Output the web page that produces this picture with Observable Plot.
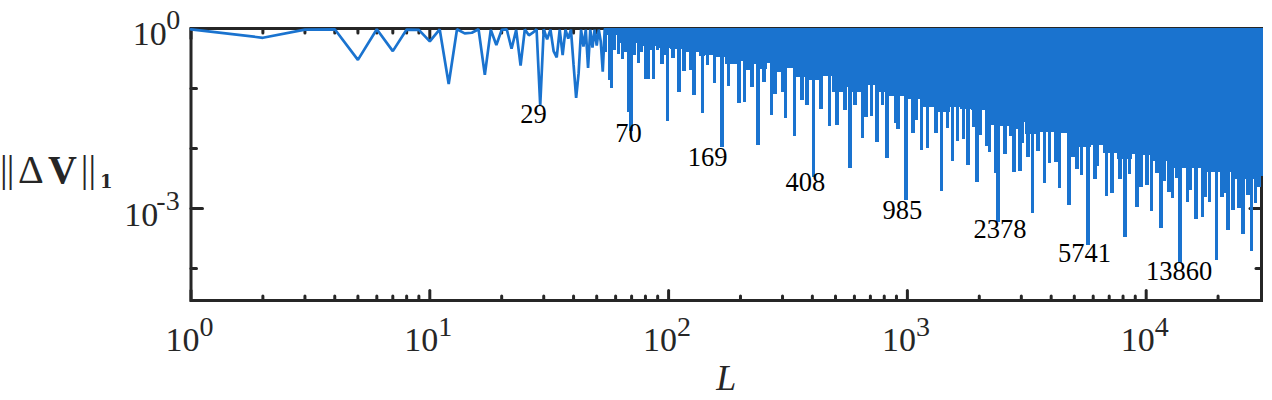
<!DOCTYPE html>
<html>
<head>
<meta charset="utf-8">
<script src="https://cdn.jsdelivr.net/npm/d3@7"></script>
<script src="https://cdn.jsdelivr.net/npm/@observablehq/plot@0.6"></script>
<style>html,body{margin:0;padding:0;background:#fff}svg{display:block}</style>
</head>
<body>
<div id="chart"></div>
<script>
// Integer L from 1 to 54: the resolved zigzag
const lowL = [1,2,3,4,5,6,7,8,9,10,11,12,13,14,15,16,17,18,19,20,21,22,23,24,25,26,27,28,29,30,31,32,33,34,35,36,37,38,39,40,41,42,43,44,45,46,47,48,49,50,51,52,53,54];
const lowV = [.97,.70,.96,.97,.30,.97,.42,.96,.95,.61,.97,.119,.97,.83,.85,.97,.169,.95,.53,.95,.97,.46,.95,.24,.97,.77,.85,.97,.052,.97,.66,.96,.42,.33,.96,.36,.96,.68,.96,.25,.07,.18,.96,.50,.96,.22,.96,.48,.96,.52,.96,.60,.19,.96];

// Dips beyond L = 54, read as decades on both log axes: log10(L), -log10(||dV||)
const dipLogL = [1.760,1.791,1.807,1.843,1.873,1.910,1.938,1.973,1.995,2.019,2.043,2.064,2.092,2.106,2.143,2.162,2.193,2.224,2.252,2.294,2.319,2.350,2.374,2.399,2.430,2.445,2.476,2.490,2.528,2.559,2.580,2.608,2.639,2.675,2.705,2.738,2.759,2.780,2.811,2.827,2.850,2.873,2.897,2.914,2.949,2.961,2.994,3.023,3.037,3.060,3.085,3.119,3.144,3.167,3.190,3.211,3.236,3.253,3.278,3.291,3.307,3.331,3.344,3.379,3.408,3.433,3.446,3.471,3.483,3.505,3.525,3.547,3.575,3.596,3.623,3.638,3.676,3.693,3.711,3.728,3.756,3.786,3.797,3.833,3.857,3.890,3.911,3.931,3.962,3.979,4.004,4.021,4.046,4.062,4.074,4.095,4.109,4.127,4.141,4.172,4.183,4.209,4.235,4.248,4.266,4.294,4.318,4.328,4.342,4.364,4.388,4.405,4.427,4.442,4.459,4.472];
const dipLogV = [1.003,.428,.522,1.717,.578,.855,.842,.592,1.542,.495,1.062,.712,.70,1.117,1.412,.617,.912,1.978,.962,1.245,1.228,.978,1.95,.895,1.45,1.10,1.072,1.495,1.797,1.20,1.283,2.483,1.347,1.63,1.617,1.367,2.328,1.283,1.828,1.478,1.467,1.895,1.283,2.162,1.578,1.683,2.867,1.745,1.533,2.033,1.995,1.745,2.712,1.662,2.212,1.878,1.85,2.278,1.645,2.562,1.778,1.962,2.062,3.233,2.108,1.80,2.408,2.378,1.912,2.145,3.088,2.045,2.588,2.245,2.228,2.662,2.95,2.145,2.35,2.445,3.617,2.512,2.295,2.795,2.758,2.512,3.478,2.43,2.978,2.645,2.617,3.045,2.412,3.328,2.545,2.728,2.83,2.505,3.917,2.895,2.70,3.183,3.145,2.817,2.895,3.867,2.812,2.75,3.367,3.033,2.995,3.433,2.783,3.712,2.922,2.65];

// Shallower neighbours of those dips
const nearLogL = [1.736,1.753,1.773,1.820,1.834,1.857,1.886,1.903,1.916,1.924,1.954,1.983,3.371];
const nearLogV = [.40,.867,.367,.40,1.40,.45,.40,.85,.85,.367,.367,.45,2.417];

// Lower edge of the solid band where the oscillation is too dense to resolve
const bandLogL = [1.732,1.840,1.924,1.983,2.037,2.117,2.138,2.167,2.205,2.272,2.305,2.343,2.364,2.397,2.435,2.456,2.519,2.552,2.628,2.661,2.712,2.749,2.795,2.858,2.879,2.967,3.042,3.076,3.160,3.201,3.243,3.298,3.356,3.398,3.453,3.486,3.507,3.582,3.683,3.737,3.804,3.838,3.918,3.968,4.01,4.026,4.194,4.278,4.449,4.49];
const bandLogV = [.12,.25,.30,.33,.35,.40,.47,.45,.48,.60,.55,.70,.60,.68,.58,.73,.66,.82,.87,.80,1.07,.98,1.07,.95,1.07,1.13,1.18,1.32,1.40,1.32,1.35,1.37,1.62,1.63,1.68,1.57,1.77,1.73,1.75,1.98,1.95,2.08,2.18,2.10,2.12,2.22,2.33,2.40,2.52,2.47];

// Annotations on the deepest dips
const noteText = ["29","70","169","408","985","2378","5741","13860"];
const noteLogL = [1.434,1.832,2.163,2.573,2.979,3.388,3.742,4.138];
const noteLogV = [1.428,1.75,2.15,2.567,3.033,3.345,3.75,4.05];

// Axes
const xDomain = [1, 30400];
const yDomain = [2.93e-5, 1];
const xMajor = [1,10,100,1000,10000];
const xMinor = [2,3,4,5,6,7,8,9,20,30,40,50,60,70,80,90,200,300,400,500,600,700,800,900,2000,3000,4000,5000,6000,7000,8000,9000,20000];
const yMajor = [1e-3];
const yMinor = [1e-1,1e-2,1e-4];
const xTickExp = ["0","1","2","3","4"];

const blue = "#1a73cf", ink = "#262626";
const serif = "'Liberation Serif','Times New Roman',serif";
const bar = {draw(ctx, l){ctx.moveTo(0,0);ctx.lineTo(0,-l);}};
const dips = dipLogL.map((l,i)=>({L:10**l, V:10**(-dipLogV[i])}));
const near = nearLogL.map((l,i)=>({L:10**l, V:10**(-nearLogV[i])}));
const band = bandLogL.map((l,i)=>({L:10**l, V:10**(-bandLogV[i])}));
const notes = noteText.map((t,i)=>({t, L:10**noteLogL[i], V:10**(-noteLogV[i])}));
const low = lowL.map((L,i)=>({L, V:lowV[i]}));

const tx = (vals,len,frameAnchor,rotate)=>Plot.vectorX(vals,{x:d=>d,frameAnchor,length:len,rotate,anchor:"start",shape:bar,stroke:ink,strokeWidth:3});
const ty = (vals,len,frameAnchor,rotate)=>Plot.vectorY(vals,{y:d=>d,frameAnchor,length:len,rotate,anchor:"start",shape:bar,stroke:ink,strokeWidth:3});
const ylab = (t,dx,size,weight,dy,family)=>Plot.text([t],{frameAnchor:"left",y:[1e-2],text:d=>d,textAnchor:"start",lineAnchor:"middle",dx,dy,fontSize:size,fontWeight:weight,fontFamily:family||serif,fill:ink});

const fig = Plot.plot({
  width:1272,height:400,
  marginLeft:190.5,marginRight:11,marginTop:28,marginBottom:100,
  style:{background:"#fff",overflow:"visible"},
  x:{type:"log",domain:xDomain,axis:null},
  y:{type:"log",domain:yDomain,axis:null},
  marks:[
    tx(xMinor,4.5,"bottom",0),tx(xMajor,10,"bottom",0),
    tx(xMinor,4.5,"top",180),tx(xMajor,10,"top",180),
    ty(yMinor,5.5,"left",90),ty(yMajor,11.5,"left",90),
    ty(yMinor,5.5,"right",-90),ty(yMajor,11.5,"right",-90),
    Plot.frame({stroke:ink,strokeWidth:3}),
    Plot.area(band,{x1:"L",y1:()=>1,y2:"V",fill:blue,curve:"step",shapeRendering:"crispEdges"}),
    Plot.ruleX(near,{x:"L",y1:()=>1,y2:"V",stroke:blue,strokeWidth:3.4,shapeRendering:"crispEdges"}),
    Plot.ruleX(dips,{x:"L",y1:()=>1,y2:"V",stroke:blue,strokeWidth:3.4,shapeRendering:"crispEdges"}),
    Plot.line(low,{x:"L",y:"V",stroke:blue,strokeWidth:2.7,strokeLinejoin:"miter"}),
    Plot.text(notes,{x:"L",y:"V",text:"t",fontFamily:serif,fontSize:26.5,fill:"#000"}),
    Plot.text(xMajor,{x:d=>d,frameAnchor:"bottom",lineAnchor:"middle",text:()=>"10",textAnchor:"end",dx:8.5,dy:40.1,fontFamily:serif,fontSize:34,fill:ink}),
    Plot.text(xMajor,{x:d=>d,frameAnchor:"bottom",lineAnchor:"middle",text:(d,i)=>xTickExp[i],textAnchor:"start",dx:8.5,dy:27,fontFamily:serif,fontSize:28,fill:ink}),
    Plot.text([1],{y:d=>d,frameAnchor:"left",lineAnchor:"middle",text:()=>"10",textAnchor:"end",dx:-24.2,dy:6.1,fontFamily:serif,fontSize:34,fill:ink}),
    Plot.text([1],{y:d=>d,frameAnchor:"left",lineAnchor:"middle",text:()=>"0",textAnchor:"end",dx:-10.8,dy:-8,fontFamily:serif,fontSize:28,fill:ink}),
    Plot.text(yMajor,{y:d=>d,frameAnchor:"left",lineAnchor:"middle",text:()=>"10",textAnchor:"end",dx:-32.7,dy:7.1,fontFamily:serif,fontSize:34,fill:ink}),
    Plot.text(yMajor,{y:d=>d,frameAnchor:"left",lineAnchor:"middle",text:()=>"-3",textAnchor:"end",dx:-11.3,dy:-7,fontFamily:serif,fontSize:28,fill:ink}),
    Plot.text(["L"],{frameAnchor:"bottom",lineAnchor:"middle",text:d=>d,dy:77.5,fontFamily:serif,fontStyle:"italic",fontSize:36,fill:ink}),
    ylab("|",-191,38,"normal",21.8),
    ylab("|",-184.3,38,"normal",21.8),
    ylab("\u0394",-173,40,"normal",21.2),
    ylab("V",-143,40,"bold",21.2),
    ylab("|",-110.3,38,"normal",21.8),
    ylab("|",-102.6,38,"normal",21.8),
    ylab("1",-91,18,"bold",33.5,"'DejaVu Serif',serif")
  ]
});
document.getElementById("chart").appendChild(fig);
</script>
</body>
</html>
